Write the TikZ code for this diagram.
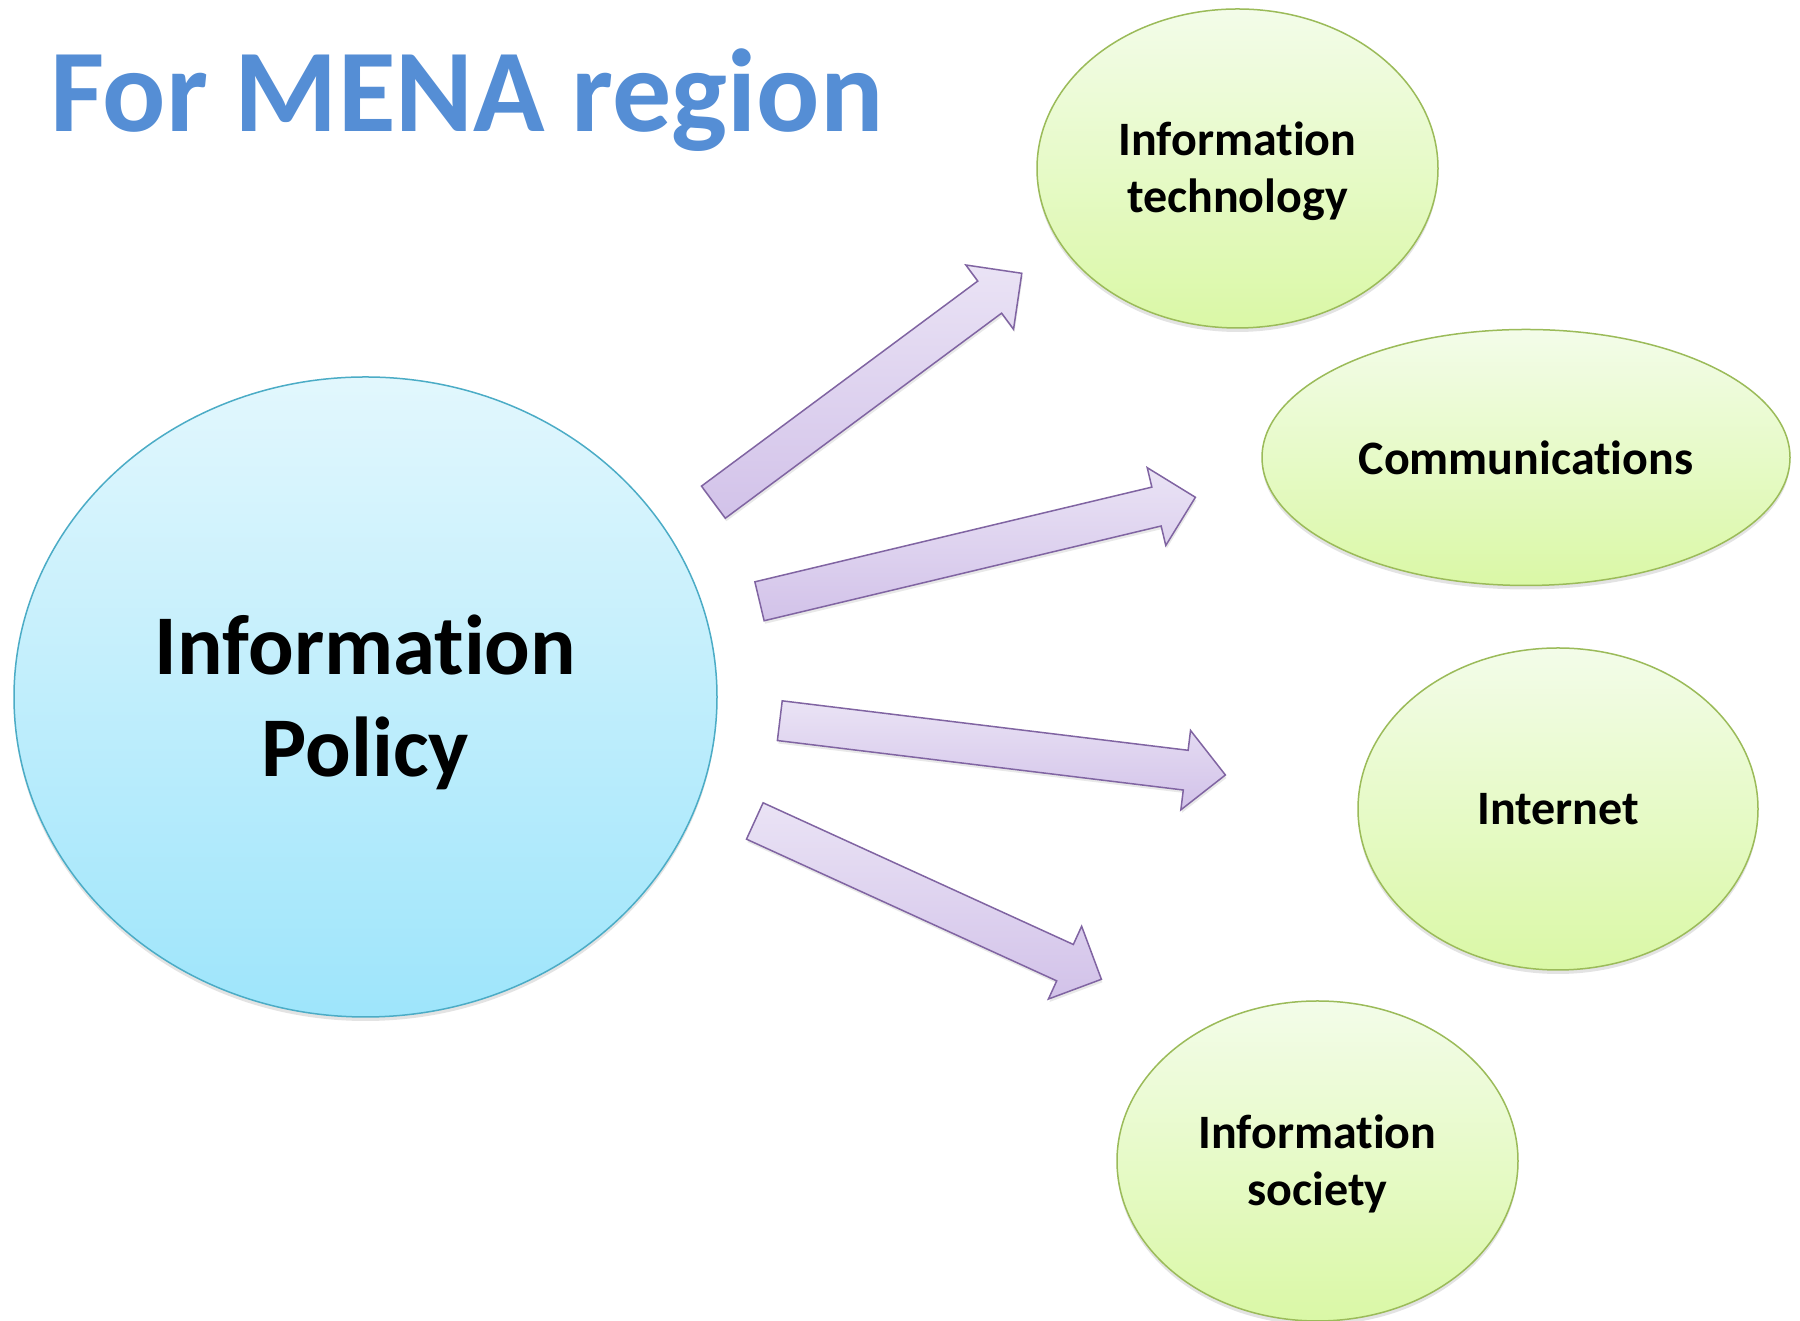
\documentclass[tikz,border=0pt]{standalone}
\usepackage{fontspec}
\setmainfont{Carlito}[Ligatures={NoCommon,NoContextual}]
\usetikzlibrary{shapes.geometric,calc,shadows}
\definecolor{titleblue}{HTML}{558ED5}
\definecolor{bigborder}{HTML}{4BACC6}
\definecolor{bigtop}{HTML}{E2F7FD}
\definecolor{bigbot}{HTML}{9EE5FB}
\definecolor{grborder}{HTML}{9BBB59}
\definecolor{grtop}{HTML}{F3FCE9}
\definecolor{grbot}{HTML}{DAF8A6}
\definecolor{arborder}{HTML}{8064A2}
\definecolor{artop}{HTML}{EAE3F5}
\definecolor{arbot}{HTML}{D2C2E9}
\newcommand{\blockarrow}[3]{%
  \coordinate (#1h) at ($(#3)!40pt!(#2)$);
  \draw[arrowbody] ($(#2)!20pt!90:(#3)$) -- ($(#1h)!20pt!90:(#3)$) -- ($(#1h)!40pt!90:(#3)$)
    -- (#3) -- ($(#1h)!40pt!-90:(#3)$) -- ($(#1h)!20pt!-90:(#3)$) -- ($(#2)!20pt!-90:(#3)$) -- cycle;
}
\begin{document}
\begin{tikzpicture}[x=1pt,y=1pt,
  bigell/.style={ellipse, draw=bigborder, line width=1.5pt, top color=bigtop, bottom color=bigbot,
    inner sep=0pt,
    drop shadow={shadow xshift=0pt, shadow yshift=-4pt, opacity=0.22}},
  greenell/.style={ellipse, draw=grborder, line width=1.5pt, top color=grtop, bottom color=grbot,
    inner sep=0pt,
    drop shadow={shadow xshift=0pt, shadow yshift=-4pt, opacity=0.22}},
  bigtext/.style={inner sep=0pt, align=center, font=\bfseries\fontsize{85}{102}\selectfont},
  smalltext/.style={inner sep=0pt, align=center, font=\bfseries\fontsize{48}{57}\selectfont},
  arrowbody/.style={draw=arborder, line width=1.5pt, line join=miter, top color=artop, bottom color=arbot,
    drop shadow={shadow xshift=1pt, shadow yshift=-3pt, opacity=0.18}},
  titletext/.style={anchor=base west, inner sep=0pt, text=titleblue, font=\bfseries\fontsize{118}{142}\selectfont}
]
\useasboundingbox[fill=white] (0,0) rectangle (1800,1321);

\node[titletext] (title) at (50,1189) {For MENA region};

\node[bigell, minimum width=703pt, minimum height=640pt] (policy) at (365.5,624) {};
\node[bigtext] (policytext) at ([yshift=-5pt]policy.center) {Information\\Policy};

\node[greenell, minimum width=401pt, minimum height=319pt] (it) at (1237.5,1152.5) {};
\node[smalltext] (ittext) at ([yshift=-3pt]it.center) {Information\\technology};
\node[greenell, minimum width=528pt, minimum height=256pt] (comm) at (1526,863.5) {};
\node[smalltext] (commtext) at (comm.center) {Communications};
\node[greenell, minimum width=400pt, minimum height=322pt] (inet) at (1558,512) {};
\node[smalltext] (inettext) at (inet.center) {Internet};
\node[greenell, minimum width=401pt, minimum height=320pt] (soc) at (1317.5,160) {};
\node[smalltext] (soctext) at ([yshift=-3pt]soc.center) {Information\\society};

\coordinate (a1t) at (713.4,818.8);  \coordinate (a1p) at (1021.8,1047.7);
\coordinate (a2t) at (759.5,719.7);  \coordinate (a2p) at (1195.4,823.7);
\coordinate (a3t) at (779.8,600.3);  \coordinate (a3p) at (1225.4,546);
\coordinate (a4t) at (754.8,500);    \coordinate (a4p) at (1101.4,341.7);

\blockarrow{a1}{a1t}{a1p}
\blockarrow{a2}{a2t}{a2p}
\blockarrow{a3}{a3t}{a3p}
\blockarrow{a4}{a4t}{a4p}
\end{tikzpicture}
\end{document}
